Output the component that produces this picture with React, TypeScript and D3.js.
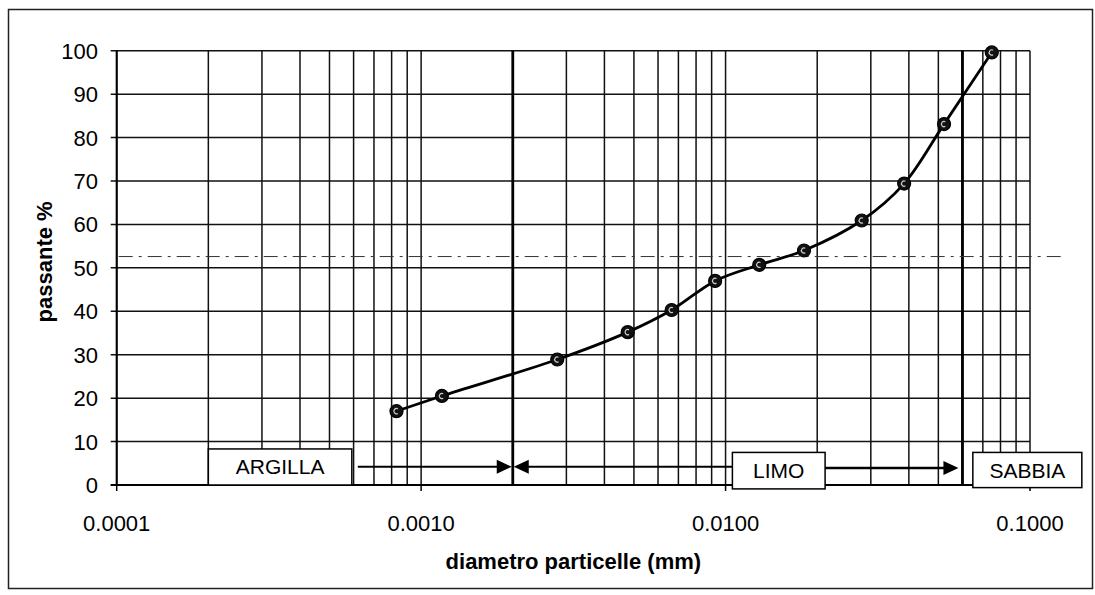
import React from "react";
import * as d3 from "d3";

// Grain-size data (diameter mm, passing %)
const diameters = [0.00083, 0.00117, 0.0028, 0.00477, 0.00665, 0.00924, 0.0129, 0.0181, 0.028, 0.0386, 0.0522, 0.0749];
const passing = [17.0, 20.5, 28.9, 35.2, 40.3, 47.0, 50.7, 54.0, 60.9, 69.4, 83.1, 99.6];

const xTickValues = [0.0001, 0.001, 0.01, 0.1];
const yTickValues = [0, 10, 20, 30, 40, 50, 60, 70, 80, 90, 100];

const zoneBounds = [0.002, 0.06];
const zoneNames = ["ARGILLA", "LIMO", "SABBIA"];
const refLevel = 52.6;

const xTitle = "diametro particelle (mm)";
const yTitle = "passante %";

const FONT = "'Liberation Sans', Arial, Helvetica, sans-serif";

export default function App() {
  const W = 1095;
  const H = 595;
  const x = d3.scaleLog().domain([0.0001, 0.1]).range([116.7, 1030]);
  const y = d3.scaleLinear().domain([0, 100]).range([485, 50.7]);
  const fmt = d3.format(".4f");

  const pts: [number, number][] = diameters.map((d, i) => [x(d), y(passing[i])]);
  const line = d3.line().curve(d3.curveCatmullRom.alpha(0.5))(pts) || "";

  const gridX = x.ticks();
  const x0 = x.range()[0];
  const x1 = x.range()[1];
  const yTop = y(100);
  const yBot = y(0);

  const crescent = d3.arc()({
    innerRadius: 2.0,
    outerRadius: 3.2,
    startAngle: (150 * Math.PI) / 180,
    endAngle: (390 * Math.PI) / 180,
  } as any) || "";

  const arrowHead = (tipX: number, yy: number, dir: number) => {
    const len = 15;
    const half = 7;
    return `M${tipX},${yy} L${tipX - dir * len},${yy - half} L${tipX - dir * len},${yy + half} Z`;
  };

  // annotation boxes (data units)
  const boxes = [
    { name: zoneNames[0], x0: 0.0002, x1: 0.000592, yT: 8.3, yB: 0 },
    { name: zoneNames[1], x0: 0.01053, x1: 0.02123, yT: 7.5, yB: -0.9 },
    { name: zoneNames[2], x0: 0.0649, x1: 0.148, yT: 7.5, yB: -0.6 },
  ];

  const arrowY1 = y(4.2);
  const arrowY2 = y(3.9);

  return (
    <svg
      width={W}
      height={H}
      viewBox={`0 0 ${W} ${H}`}
      style={{ position: "absolute", left: 0, top: 0, background: "#fff" }}
      fontFamily={FONT}
    >
      <rect x={0} y={0} width={W} height={H} fill="#fff" />
      {/* outer border */}
      <rect x={8.5} y={9.5} width={1084} height={579} fill="none" stroke="#222" strokeWidth={1.5} />

      {/* vertical grid */}
      {gridX.map((v, i) => (
        <line key={"gx" + i} x1={x(v)} x2={x(v)} y1={yTop} y2={yBot} stroke="#111" strokeWidth={1.5} />
      ))}
      {/* horizontal grid */}
      {yTickValues.map((v) => (
        <line key={"gy" + v} x1={x0 - 6} x2={x1} y1={y(v)} y2={y(v)} stroke="#111" strokeWidth={1.5} />
      ))}

      {/* zone boundaries */}
      {zoneBounds.map((b, i) => (
        <line key={"zb" + i} x1={x(b)} x2={x(b)} y1={yTop} y2={yBot} stroke="#000" strokeWidth={2.8} />
      ))}

      {/* reference dash-dot line */}
      <line
        x1={x0 + 2}
        x2={1063}
        y1={y(refLevel)}
        y2={y(refLevel)}
        stroke="#333"
        strokeWidth={1}
        strokeDasharray="14 6 3 6"
      />

      {/* axes */}
      <line x1={x0} x2={x0} y1={yTop} y2={yBot} stroke="#000" strokeWidth={2} />
      <line x1={x0 - 6} x2={x1} y1={yBot} y2={yBot} stroke="#000" strokeWidth={2} />
      {xTickValues.map((v) => (
        <line key={"xt" + v} x1={x(v)} x2={x(v)} y1={yBot} y2={yBot + 6} stroke="#000" strokeWidth={1.5} />
      ))}

      {/* boxes */}
      {boxes.map((b) => (
        <g key={b.name}>
          <rect
            x={x(b.x0)}
            y={y(b.yT)}
            width={x(b.x1) - x(b.x0)}
            height={y(b.yB) - y(b.yT)}
            fill="#fff"
            stroke="#000"
            strokeWidth={1.5}
          />
          <text
            x={(x(b.x0) + x(b.x1)) / 2}
            y={(y(b.yT) + y(b.yB)) / 2 + 7.5}
            textAnchor="middle"
            fontSize={21}
            fill="#000"
          >
            {b.name}
          </text>
        </g>
      ))}

      {/* arrows */}
      <line x1={x(boxes[0].x1) + 6} x2={x(zoneBounds[0]) - 14} y1={arrowY1} y2={arrowY1} stroke="#000" strokeWidth={2.2} />
      <path d={arrowHead(x(zoneBounds[0]) - 1, arrowY1, 1)} fill="#000" />
      <line x1={x(zoneBounds[0]) + 14} x2={x(boxes[1].x0)} y1={arrowY1} y2={arrowY1} stroke="#000" strokeWidth={2.2} />
      <path d={arrowHead(x(zoneBounds[0]) + 1, arrowY1, -1)} fill="#000" />
      <line x1={x(boxes[1].x1)} x2={x(zoneBounds[1]) - 18} y1={arrowY2} y2={arrowY2} stroke="#000" strokeWidth={2.4} />
      <path d={arrowHead(x(zoneBounds[1]) - 4, arrowY2, 1)} fill="#000" />

      {/* curve */}
      <path d={line} fill="none" stroke="#000" strokeWidth={2.8} />
      {pts.map(([px, py], i) => (
        <g key={"p" + i} transform={`translate(${px},${py})`}>
          <circle r={6.5} fill="#111" stroke="#000" strokeWidth={1.2} />
          <path d={crescent} fill="#fff" opacity={0.8} />
        </g>
      ))}

      {/* y tick labels */}
      {yTickValues.map((v) => (
        <text key={"yl" + v} x={98} y={y(v) + 8} textAnchor="end" fontSize={22} fill="#000">
          {v}
        </text>
      ))}
      {/* x tick labels */}
      {xTickValues.map((v) => (
        <text key={"xl" + v} x={x(v)} y={531} textAnchor="middle" fontSize={22} fill="#000">
          {fmt(v)}
        </text>
      ))}

      {/* titles */}
      <text x={(x0 + x1) / 2} y={569} textAnchor="middle" fontSize={22} fontWeight="bold" fill="#000">
        {xTitle}
      </text>
      <text
        transform={`translate(52, ${(yTop + yBot) / 2 - 6}) rotate(-90)`}
        textAnchor="middle"
        fontSize={22}
        fontWeight="bold"
        fill="#000"
      >
        {yTitle}
      </text>
    </svg>
  );
}
